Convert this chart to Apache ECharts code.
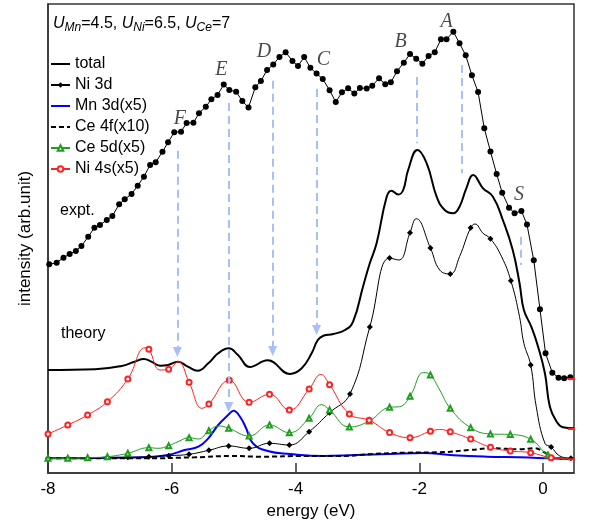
<!DOCTYPE html>
<html><head><meta charset="utf-8">
<script src="https://cdn.jsdelivr.net/npm/echarts@6/dist/echarts.min.js"></script>
<style>html,body{margin:0;padding:0;background:#fff}#c{width:599px;height:525px}</style>
</head><body><div id="c"></div>
<script>
// ---- data (energy in eV, intensity in arbitrary units) ----
const exptX = [-7.98,-7.86,-7.75,-7.65,-7.55,-7.46,-7.35,-7.25,-7.16,-7.05,-6.96,-6.85,-6.76,-6.65,-6.55,-6.45,-6.35,-6.26,-6.15,-6.06,-5.96,-5.85,-5.76,-5.65,-5.56,-5.45,-5.36,-5.26,-5.16,-5.07,-4.96,-4.86,-4.76,-4.65,-4.56,-4.46,-4.36,-4.26,-4.16,-4.05,-3.96,-3.86,-3.76,-3.66,-3.56,-3.45,-3.35,-3.25,-3.15,-3.05,-2.96,-2.85,-2.76,-2.65,-2.55,-2.46,-2.36,-2.25,-2.15,-2.05,-1.95,-1.85,-1.75,-1.65,-1.56,-1.45,-1.35,-1.25,-1.15,-1.05,-0.95,-0.85,-0.75,-0.66,-0.55,-0.46,-0.35,-0.26,-0.15,-0.05,0.04,0.15,0.25,0.34,0.44];
const exptY = [208.7,210.3,215.3,219,222,227,236.3,245.3,248,253,257,268.7,273.7,279,287.3,296.3,308,310.7,321.3,330.7,340.7,341.3,350,350.3,359.7,366.3,373.7,378,388.5,383,381.2,372,365.5,385.8,392,403,408.5,416,420.8,412,407,416,405.2,399.4,394,382.8,371,380.7,384.7,379.5,385.1,384.5,387.3,394.7,388.7,390.7,401.7,410.3,419,414.3,409.3,417,420.7,433.7,433.7,441.3,429.7,417.7,397.7,381,344.7,321.5,299,280.3,265.3,259.7,262,248.5,212.7,163.7,119.7,100.3,95.3,94.7,95.8];

const theoryTotal = [[-8.0,103],[-7.24,103.7],[-6.81,107],[-6.60,111.3],[-6.45,114],[-6.33,111.3],[-6.19,107.3],[-6.06,108],[-5.90,111.3],[-5.74,106.3],[-5.58,102.3],[-5.41,109.7],[-5.25,119.7],[-5.08,124.7],[-4.93,118],[-4.74,106],[-4.45,112.7],[-4.09,99],[-3.90,104.7],[-3.74,119.7],[-3.64,133],[-3.55,137.3],[-3.39,139],[-3.20,143],[-3.07,151.3],[-2.91,186.3],[-2.80,209.7],[-2.69,229.7],[-2.53,275.5],[-2.45,282.2],[-2.34,278.5],[-2.26,283],[-2.18,303],[-2.03,323],[-1.88,309.7],[-1.72,276.3],[-1.59,263],[-1.45,259.7],[-1.35,266.3],[-1.24,284.7],[-1.13,298],[-0.97,284.7],[-0.81,276.3],[-0.65,253],[-0.49,223],[-0.38,189.7],[-0.31,163],[-0.19,146.3],[-0.08,126.3],[0.03,99.7],[0.11,66.3],[0.22,51.3],[0.32,45.7],[0.5,44.7]];

// [energy, intensity, marker(1/0)]
const ni3d = [[-8.0,14.7,1],[-7.68,14.7,1],[-7.36,14.7,1],[-7.04,15.7,1],[-6.71,15.7,1],[-6.37,16.3,1],[-6.05,17.3,1],[-5.72,18.7,1],[-5.40,22.7,1],[-5.08,27,1],[-4.75,24.7,1],[-4.42,29.7,1],[-4.10,28,1],[-3.78,41.3,1],[-3.45,60.3,1],[-3.12,79,1],[-2.80,146,1],[-2.48,215,1],[-2.33,213,0],[-2.15,240.3,1],[-2.05,254.3,0],[-1.82,225,1],[-1.67,203,0],[-1.50,199,1],[-1.35,216.3,0],[-1.17,245.3,1],[-1.10,249,0],[-0.97,239.7,0],[-0.85,234.3,1],[-0.67,216.3,0],[-0.52,192.3,1],[-0.38,156.3,0],[-0.31,129.7,0],[-0.20,108,1],[-0.11,66.3,0],[0.03,29.7,0],[0.13,26,1],[0.27,17,0],[0.45,14.7,1]];
const mn3d = [[-8.0,14.7],[-6.43,15.7],[-6.06,18],[-5.79,23],[-5.57,26.3],[-5.41,34.7],[-5.25,48],[-5.09,58],[-5.00,62.3],[-4.90,56.5],[-4.80,45],[-4.69,29.7],[-4.45,22],[-4.09,19],[-3.55,17],[-3.02,18],[-2.48,19],[-1.94,20],[-1.45,17.7],[-0.91,16.3],[-0.38,15.7],[0.11,14.7],[0.46,14]];
const ce4f = [[-8.0,14.7],[-6.43,14.7],[-5.63,15.7],[-5.03,17],[-4.58,16.3],[-3.82,17],[-3.28,17],[-2.75,19],[-2.21,20.3],[-1.67,20.7],[-1.18,23],[-0.81,24.7],[-0.38,23.7],[-0.13,24.7],[0.0,21.3],[0.14,16.3],[0.27,14.7],[0.46,14]];
const ce5d = [[-8.0,14.7,1],[-7.68,14.7,1],[-7.36,15.3,1],[-7.04,16.3,1],[-6.71,19.7,1],[-6.37,25.3,1],[-6.22,24.7,0],[-6.05,27.3,1],[-5.90,31.3,0],[-5.72,35.3,1],[-5.57,34,0],[-5.40,42.3,1],[-5.24,47,0],[-5.08,44.7,1],[-4.75,37,1],[-4.42,48,1],[-4.10,40.3,1],[-3.78,54.7,1],[-3.58,68.3,0],[-3.45,63,1],[-3.13,46,1],[-2.81,52,1],[-2.48,65.7,1],[-2.32,66.3,0],[-2.15,76.7,1],[-1.93,100.5,0],[-1.82,98,1],[-1.67,83,0],[-1.50,64.7,1],[-1.17,45.3,1],[-0.85,39,1],[-0.53,38.5,1],[-0.20,33.7,1],[0.08,18,1],[0.27,15,0],[0.46,14,0]];
const ni4s = [[-8.0,39,1],[-7.68,48,1],[-7.36,58,1],[-7.04,71.3,1],[-6.71,94,1],[-6.43,125.2,0],[-6.37,123.8,1],[-6.19,103,0],[-6.05,103.7,1],[-5.90,111.3,0],[-5.72,90.7,1],[-5.51,64.7,0],[-5.40,69,1],[-5.07,92.7,1],[-4.75,70.7,1],[-4.42,78.7,1],[-4.10,63,1],[-3.78,84,1],[-3.59,98.5,0],[-3.45,88.3,1],[-3.13,59,1],[-2.81,52.7,1],[-2.48,40.5,1],[-2.15,35.3,1],[-1.82,41.7,1],[-1.67,43.5,0],[-1.50,41.2,1],[-1.17,34,1],[-0.85,25.7,1],[-0.53,22,1],[-0.20,20.3,1],[0.13,15.3,1],[0.46,14,0]];

// zero-lines of the three curve groups (expt, theory total, partial DOS)
const baselines = [94, 44, 13.7];
const baselineX = [0.40, 0.66];

// peak guides: label, energy, top, bottom, arrow
const peakNames = ['F','E','D','C','B','A','S'];
const peakX = [-5.91,-5.08,-4.37,-3.66,-2.045,-1.318,-0.365];
const guideTop = [322.3,370,392.3,384,396,408,236.3];
const guideBottom = [121,66,122,143,329.7,299.7,208];
const guideArrow = [1,1,1,1,0,0,0];
const labelPos = [[-5.87,354.7],[-5.20,403],[-4.51,421.3],[-3.55,413.7],[-2.30,431.3],[-1.56,451.3],[-0.39,278]];

const FONT = 'Liberation Sans, Arial, sans-serif';
const SM = 0.45;

function withMarkers(arr){
  return arr.map(p => p[2] ? {value:[p[0],p[1]]} : {value:[p[0],p[1]], symbol:'none'});
}

const chart = echarts.init(document.getElementById('c'), null, {renderer:'canvas'});

const guideData = peakX.map((x,i)=>[
  {coord:[x, guideTop[i]], symbol:'none'},
  {coord:[x, guideBottom[i]], symbol: guideArrow[i] ? 'triangle' : 'none'}
]);

const series = [
  {name:'total', type:'line', data: theoryTotal, smooth:SM, symbol:'none',
   lineStyle:{color:'#000', width:2}, itemStyle:{color:'#000'}, z:3},
  {name:'Ni 3d', type:'line', data: withMarkers(ni3d), smooth:SM, symbol:'diamond', symbolSize:6,
   showAllSymbol:true, lineStyle:{color:'#000', width:1}, itemStyle:{color:'#000'}, z:3},
  {name:'Mn 3d(x5)', type:'line', data: mn3d, smooth:SM, symbol:'none',
   lineStyle:{color:'#0000ff', width:2}, itemStyle:{color:'#0000ff'}, z:2},
  {name:'Ce 4f(x10)', type:'line', data: ce4f, smooth:SM, symbol:'none',
   lineStyle:{color:'#000', width:2, type:[5,3]}, itemStyle:{color:'#000'}, z:2},
  {name:'Ce 5d(x5)', type:'line', data: withMarkers(ce5d), smooth:SM, symbol:'emptyTriangle', symbolSize:5,
   showAllSymbol:true, lineStyle:{color:'#1f9e1f', width:1}, itemStyle:{color:'#1f9e1f', borderWidth:1}, z:3},
  {name:'Ni 4s(x5)', type:'line', data: withMarkers(ni4s), smooth:SM, symbol:'emptyCircle', symbolSize:5,
   showAllSymbol:true, lineStyle:{color:'#ff2222', width:1}, itemStyle:{color:'#ff2222', borderWidth:1}, z:3},
  {name:'expt', type:'line', data: exptX.map((x,i)=>[x, exptY[i]]), symbol:'circle', symbolSize:6,
   showAllSymbol:true, lineStyle:{color:'#000', width:1}, itemStyle:{color:'#000'}, z:4,
   markLine:{silent:true, symbolSize:[9,10], animation:false,
     lineStyle:{color:'#a9bff9', width:2, type:[8,5]}, itemStyle:{color:'#8fa9f5'},
     label:{show:false}, emphasis:{disabled:true}, data: guideData}},
  {name:'labels', type:'scatter', data: labelPos.map((p,i)=>[p[0],p[1],peakNames[i]]), symbolSize:1,
   itemStyle:{color:'rgba(0,0,0,0)'}, silent:true,
   label:{show:true, position:'inside', formatter: p=>p.data[2], color:'#1a1a1a',
     fontFamily:'Liberation Serif, Times New Roman, serif', fontStyle:'italic', fontSize:20}}
];
baselines.forEach((b,i)=>{
  series.push({name:'base'+i, type:'line', data: baselineX.map(x=>[x,b]), symbol:'none', clip:false,
    lineStyle:{color:'#ff2222', width:2}, z:5});
});

const noSym = {color:'rgba(0,0,0,0)', borderColor:'rgba(0,0,0,0)', borderWidth:0, opacity:0};

chart.setOption({
  animation:false,
  backgroundColor:'#fff',
  grid:{left:48, right:25, top:4, bottom:52, show:true, borderColor:'#333', borderWidth:1.5},
  xAxis:{type:'value', min:-8, max:0.5, interval:2,
    axisLine:{onZero:false, lineStyle:{color:'#333', width:1.5}},
    axisTick:{inside:true, length:10, lineStyle:{color:'#333', width:1.5}},
    axisLabel:{color:'#000', fontSize:17, fontFamily:FONT, margin:8, showMaxLabel:false,
      formatter: v => (Math.abs(v-0.5)<1e-6 ? '' : String(v))},
    splitLine:{show:false},
    name:'energy (eV)', nameLocation:'middle', nameGap:30,
    nameTextStyle:{color:'#000', fontSize:17, fontFamily:FONT}},
  yAxis:{type:'value', min:0, max:469,
    axisLine:{show:true, onZero:false, lineStyle:{color:'#333', width:1.5}},
    axisTick:{show:false}, axisLabel:{show:false}, splitLine:{show:false},
    name:'intensity (arb.unit)', nameLocation:'middle', nameGap:14,
    nameTextStyle:{color:'#000', fontSize:17, fontFamily:FONT}},
  legend:{data:[{name:'total', itemStyle:noSym},'Ni 3d',{name:'Mn 3d(x5)', itemStyle:noSym},
      {name:'Ce 4f(x10)', itemStyle:noSym},'Ce 5d(x5)','Ni 4s(x5)'],
    orient:'vertical', left:50, top:56, padding:0, itemWidth:19, itemHeight:7, itemGap:5,
    textStyle:{color:'#000', fontSize:16, fontFamily:FONT, lineHeight:14}, selectedMode:false},
  graphic:[
    {type:'text', left:53, top:16, style:{
      text:'{u|U}{s|Mn}{t|=4.5, }{u|U}{s|Ni}{t|=6.5, }{u|U}{s|Ce}{t|=7}',
      rich:{
        u:{fontSize:16, fontStyle:'italic', fontFamily:FONT, fill:'#000'},
        t:{fontSize:16, fontFamily:FONT, fill:'#000'},
        s:{fontSize:12, fontStyle:'italic', fontFamily:FONT, fill:'#000', padding:[8,0,0,0]}
      }}},
    {type:'text', left:60, top:203, style:{text:'expt.', fontSize:16, fontFamily:FONT, fill:'#000'}},
    {type:'text', left:61, top:326, style:{text:'theory', fontSize:16, fontFamily:FONT, fill:'#000'}}
  ],
  series: series
});
</script>
</body></html>
